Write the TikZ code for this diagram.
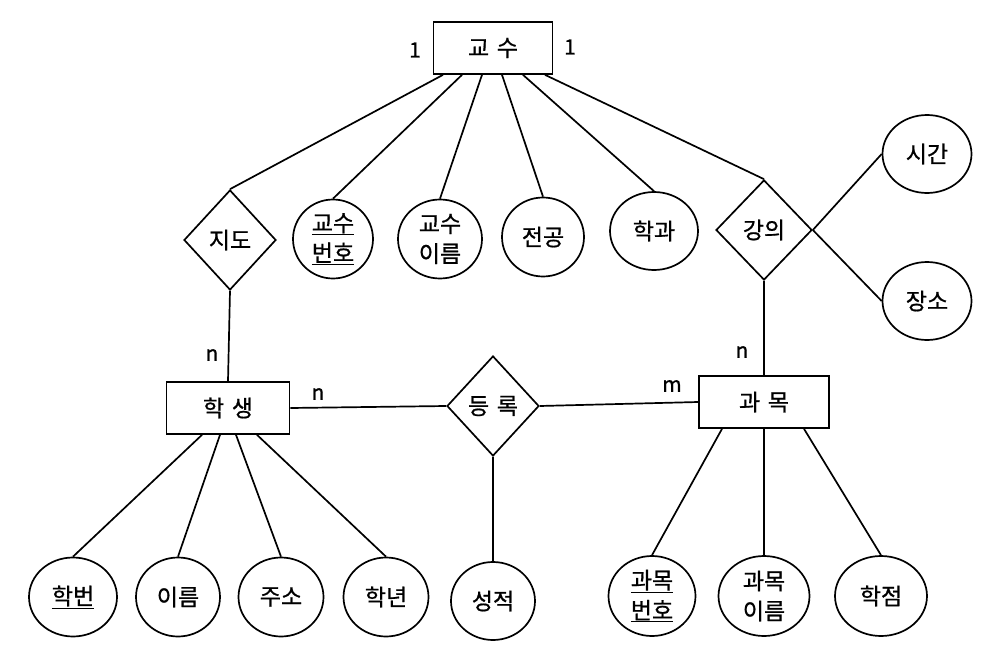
\documentclass[tikz,border=0pt]{standalone}
\usepackage{fontspec}
\setmainfont{Noto Sans CJK KR}[FakeBold=0.8]
\usetikzlibrary{shapes.geometric}
\newcommand{\ul}[1]{\underline{#1}}
\begin{document}
\begin{tikzpicture}[x=1pt,y=-1pt,line width=1.7pt,
  txt/.style={font=\fontsize{23}{30}\selectfont},
  ent/.style={txt,draw,rectangle,inner sep=0pt,minimum height=52pt},
  rel/.style={txt,draw,diamond,inner sep=0pt,minimum width=92pt,minimum height=100pt},
  attr/.style={txt,draw,ellipse,inner sep=0pt,align=center,minimum width=86pt,minimum height=79pt},
  card/.style={font=\fontsize{21}{24}\selectfont,inner sep=0pt}
]
\useasboundingbox (0,0) rectangle (999,645);
% entities
\node[ent,minimum width=119pt] (prof) at (493,48) {교\,\,수};
\node[ent,minimum width=123pt] (stud) at (228,408) {학\,\,생};
\node[ent,minimum width=130pt] (crs) at (764,402) {과\,\,목};
% relationships
\node[rel] (guide) at (230,240) {지도};
\node[rel,minimum width=96pt] (lect) at (764,230) {강의};
\node[rel] (enr) at (493,406) {등\,\,록};
% professor attributes
\node[attr,minimum width=80pt] (pnum) at (333,239) {\ul{교수}\\\ul{번호}};
\node[attr,minimum width=84pt] (pname) at (440,239) {교수\\이름};
\node[attr,minimum width=82pt] (major) at (543,237) {전공};
\node[attr,minimum width=88pt,minimum height=78pt] (dept) at (654,231) {학과};
% lecture attributes
\node[attr,minimum width=89pt,minimum height=78pt] (time) at (927,154) {시간};
\node[attr,minimum width=89pt,minimum height=78pt] (place) at (927,301) {장소};
% student attributes
\node[attr,minimum width=88pt] (snum) at (73,597) {\ul{학번}};
\node[attr,minimum width=84pt] (sname) at (178,597) {이름};
\node[attr,minimum width=85pt] (addr) at (281,597) {주소};
\node[attr,minimum width=85pt] (year) at (386,597) {학년};
% enrollment attribute
\node[attr,minimum width=84pt,minimum height=78pt] (grade) at (493,601) {성적};
% course attributes
\node[attr,minimum width=87pt,minimum height=80pt] (cnum) at (652,596) {\ul{과목}\\\ul{번호}};
\node[attr,minimum width=91pt,minimum height=80pt] (cname) at (764,596) {과목\\이름};
\node[attr,minimum width=92pt,minimum height=80pt] (credit) at (881,596) {학점};
% connectors from professor
\draw ([xshift=-50pt]prof.south) -- (guide.north);
\draw ([xshift=-31pt]prof.south) -- (pnum.north);
\draw ([xshift=-11pt]prof.south) -- (pname.north);
\draw ([xshift=9pt]prof.south) -- (major.north);
\draw ([xshift=30pt]prof.south) -- (dept.north);
\draw ([xshift=52pt]prof.south) -- (lect.north);
% lecture
\draw (lect.east) -- (time.west);
\draw (lect.east) -- (place.west);
\draw (lect.south) -- (crs.north);
% guide
\draw (guide.south) -- (stud.north);
% enrollment
\draw (stud.east) -- (enr.west);
\draw (enr.east) -- (crs.west);
\draw (enr.south) -- (grade.north);
% student attributes
\draw ([xshift=-26pt]stud.south) -- (snum.north);
\draw ([xshift=-8pt]stud.south) -- (sname.north);
\draw ([xshift=8pt]stud.south) -- (addr.north);
\draw ([xshift=29pt]stud.south) -- (year.north);
% course attributes
\draw ([xshift=-42pt]crs.south) -- (cnum.north);
\draw (crs.south) -- (cname.north);
\draw ([xshift=40pt]crs.south) -- (credit.north);
% cardinalities
\node[card] (c1) at (415,50) {1};
\node[card] (c2) at (570,47) {1};
\node[card] (c3) at (212,355) {n};
\node[card] (c4) at (318,394) {n};
\node[card] (c5) at (742,352) {n};
\node[card] (c6) at (672,386) {m};
\end{tikzpicture}
\end{document}
